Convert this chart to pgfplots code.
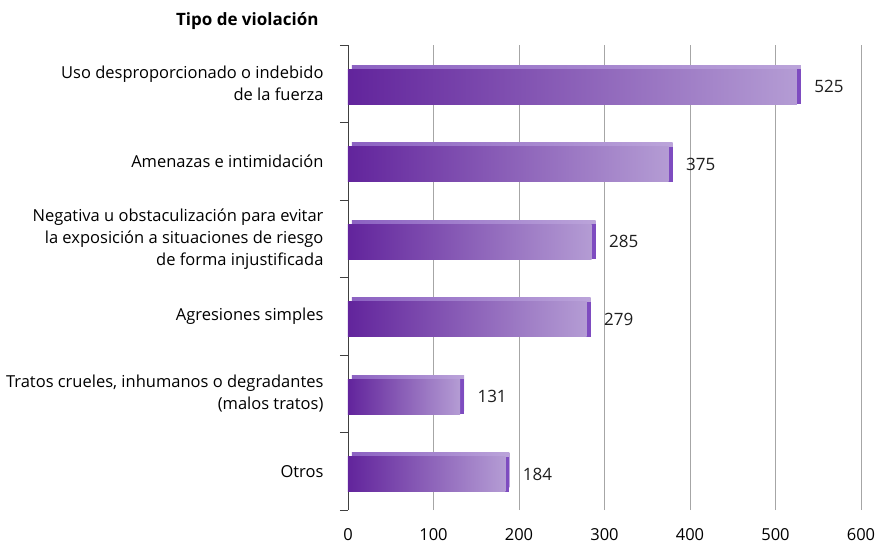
\documentclass[border=0pt]{standalone}
\usepackage{pgfplots}
\pgfplotsset{compat=1.18}
\usepackage{fontspec}
\setmainfont{Open Sans}
\definecolor{txt}{HTML}{1E1E1E}
\definecolor{gridc}{HTML}{A6A6A6}
\definecolor{axc}{HTML}{404040}
\definecolor{pdark}{HTML}{62249C}
\definecolor{plight}{HTML}{B49CD4}
\definecolor{pside}{HTML}{7E4CC0}
\definecolor{ptopl}{HTML}{8C62C2}
\definecolor{ptopr}{HTML}{BBA4DA}
\newcommand{\threedbar}[2]{%
  \addplot[draw=none, left color=ptopl, right color=ptopr, xshift=4pt, yshift=4pt, forget plot] coordinates {(#1,#2)};
  \addplot[draw=none, fill=pside, xshift=4pt, forget plot] coordinates {(#1,#2)};
  \addplot[draw=none, left color=pdark, right color=plight,
    nodes near coords, nodes near coords align={horizontal},
    every node near coord/.append style={anchor=west, xshift=14pt, color=txt, font=\fontsize{17}{19}\selectfont},
    point meta=x, forget plot] coordinates {(#1,#2)};
}
\begin{document}
\begin{tikzpicture}[font=\fontsize{16.5}{22}\selectfont\color{txt}]
\path[use as bounding box] (-348pt,-34pt) rectangle (529pt,510pt);
\begin{axis}[
  scale only axis,
  width=513pt, height=465pt,
  xmin=0, xmax=600, ymin=-0.5, ymax=5.5,
  xtick={0,100,...,600},
  ytick={0,...,5},
  yticklabels={Otros,
    {Tratos crueles, inhumanos o degradantes\\(malos tratos)},
    Agresiones simples,
    {Negativa u obstaculización para evitar\\la exposición a situaciones de riesgo\\de forma injustificada},
    Amenazas e intimidación,
    {Uso desproporcionado o indebido\\de la fuerza}},
  yticklabel style={align=right, xshift=-21pt, font=\fontsize{16.5}{22}\selectfont},
  xticklabel style={yshift=-15pt, font=\fontsize{16.5}{20}\selectfont},
  minor ytick={-0.5,0.5,...,5.5},
  major tick length=0pt,
  minor tick length=8pt,
  tick align=outside,
  minor tick style={axc, line width=0.8pt},
  axis y line*=left,
  axis x line*=bottom,
  x axis line style={draw=none},
  y axis line style={axc, line width=0.9pt},
  xmajorgrids,
  grid style={gridc, line width=0.8pt},
  /pgf/number format/assume math mode=true,
  xbar, bar width=35pt, bar shift=-3pt,
  clip=false,
]
\threedbar{184}{0}
\threedbar{131}{1}
\threedbar{279}{2}
\threedbar{285}{3}
\threedbar{375}{4}
\threedbar{525}{5}
\end{axis}
\node[anchor=base east, font=\fontsize{17}{19}\selectfont\bfseries] at (-26pt,484pt) {Tipo de violación};
\end{tikzpicture}
\end{document}
